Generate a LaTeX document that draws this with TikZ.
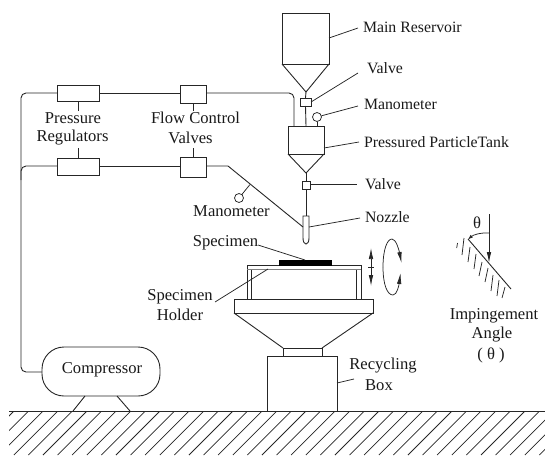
\documentclass[tikz,border=0pt]{standalone}
\usepackage{fontspec}
\setmainfont{Liberation Serif}
\usetikzlibrary{arrows.meta}
\tikzset{
  ln/.style={line width=0.9pt,color=black!85},
  thinln/.style={line width=0.75pt,color=black!85},
  pbox/.style={draw=black!85,line width=0.9pt,fill=white,inner sep=0pt,outer sep=0pt,minimum width=#1},
  lbl/.style={inner sep=0pt,outer sep=0pt,font=\fontsize{16.6}{18}\selectfont,text=black!90},
  lblw/.style={inner sep=0pt,outer sep=0pt,font=\fontsize{15.8}{18}\selectfont,text=black!90,anchor=west},
  gauge/.style={circle,draw=black!85,line width=0.75pt,fill=white,minimum size=9pt,inner sep=0pt,outer sep=0pt},
  tip/.style={-{Latex[length=11pt,width=4.5pt]}},
  rnd/.style={rounded corners=5pt}
}
\begin{document}
\begin{tikzpicture}[x=1pt,y=-1pt]
\useasboundingbox (0,0) rectangle (545,455);
% ground
\begin{scope}
\clip (9,411) rectangle (545,455);
\foreach \k in {0,...,41} {
  \draw[thinln] ({14+14.6*\k},411) -- ({14+14.6*\k-44},455);
}
\end{scope}
\coordinate (gl) at (9,411);
\coordinate (gr) at (545,411);
\draw[ln] (gl) -- (gr);
% reservoir
\node[pbox=47pt,minimum height=51pt] (res) at (305.5,38.5) {};
\coordinate (resapex) at (306,92);
\draw[ln] (res.south west) -- (resapex) -- (res.south east);
\node[pbox=11pt,minimum height=8pt] (v1) at (305.5,102) {};
% tank
\node[pbox=36pt,minimum height=28pt] (tank) at (306,140) {};
\coordinate (tankapex) at (306,173);
\draw[ln] (tank.south west) -- (tankapex) -- (tank.south east);
\node[pbox=8pt,minimum height=7.5pt] (v2) at (306,185.5) {};
\draw[ln] (resapex) -- (v1.north);
\draw[ln] (v1.south) -- (tank.north);
\draw[ln] (tankapex) -- (v2.north);
% nozzle
\coordinate (nozzletop) at (306,216);
\draw[ln] (v2.south) -- (nozzletop);
\draw[ln,fill=white] (303,238) -- (303,216) -- (309,216) -- (309,238) .. controls (309,246) and (303,246) .. (303,238);
\coordinate (nozl) at (303,227);
\coordinate (nozr) at (309,227);
% regulators and valves
\node[pbox=42pt,minimum height=16pt] (rt) at (78,93) {};
\node[pbox=26pt,minimum height=18pt] (ft) at (193,94) {};
\node[pbox=42pt,minimum height=17pt] (rb) at (78,166.5) {};
\node[pbox=26pt,minimum height=20pt] (fb) at (193,167) {};
\node[lbl] (regA) at (73,118) {Pressure};
\node[lbl] (regB) at (72.5,138) {Regulators};
\node[lbl] (flowA) at (195.5,118) {Flow Control};
\node[lbl] (flowB) at (190.5,138) {Valves};
\coordinate (t1) at (78.5,111);
\coordinate (t2) at (193,111);
\coordinate (t3) at (78.5,148);
\coordinate (t4) at (193,148);
\draw[ln] (rt.south -| t1) -- (t1);
\draw[ln] (ft.south) -- (t2);
\draw[ln] (rb.north -| t3) -- (t3);
\draw[ln] (fb.north) -- (t4);
% compressor
\node[draw=black!85,line width=0.9pt,rounded corners=22pt,minimum width=118pt,minimum height=49pt,inner sep=0pt,outer sep=0pt] (comp) at (101,371.5) {};
\node[lbl] (comptext) at (102,370) {Compressor};
\coordinate (f1) at (85,396);
\coordinate (f1g) at (73,411);
\coordinate (f2) at (117,396);
\coordinate (f2g) at (130,411);
\draw[ln] (f1) -- (f1g);
\draw[ln] (f2) -- (f2g);
% air lines
\coordinate (lc) at (21,372);
\draw[ln,rnd] (comp.west |- lc) -- (lc) -- (21,93) -- (rt.west);
\draw[ln,rnd] (21,180) -- (21,166) -- (rb.west |- 0,166);
\draw[ln] (rt.east) -- (ft.west |- rt.east);
\draw[ln,rnd] (ft.east |- rt.east) -- (294,93) -- (294,126);
\draw[ln] (rb.east) -- (fb.west |- rb.east);
\coordinate (bend) at (228,166);
\draw[ln] (fb.east |- bend) -- (bend) -- (nozl);
\node[gauge] (g2) at (239,198) {};
\coordinate (g2j) at (250,184.5);
\draw[thinln] (g2) -- (g2j);
% labels right
\node[lblw] (lmain) at (363,27) {Main Reservoir};
\node[lblw] (lv1) at (367,68) {Valve};
\node[lblw] (lman) at (364,104) {Manometer};
\node[lblw] (ltank) at (364,142) {Pressured ParticleTank};
\node[lblw] (lv2) at (365,184) {Valve};
\node[lblw] (lnoz) at (365,217) {Nozzle};
\node[gauge] (g1) at (317,117) {};
\draw[thinln] (g1) -- (tank.north -| g1);
\coordinate (a1) at (329,38);  \coordinate (a2) at (358,28);
\draw[thinln] (a1) -- (a2);
\coordinate (a3) at (311,102); \coordinate (a4) at (358,73);
\draw[thinln] (a3) -- (a4);
\coordinate (a5) at (358,106);
\draw[thinln] (g1) -- (a5);
\coordinate (a7) at (324,148); \coordinate (a8) at (359,142);
\draw[thinln] (a7) -- (a8);
\coordinate (a9) at (357,184);
\draw[thinln] (v2.east |- a9) -- (a9);
\coordinate (a10) at (360,218);
\draw[thinln] (nozr) -- (a10);
\node[lbl] (lman2) at (231.5,211) {Manometer};
\node[lbl] (lspec) at (225.5,243) {Specimen};
\node[lbl] (lhA) at (180,297) {Specimen};
\node[lbl] (lhB) at (180,315) {Holder};
% table
\node[pbox=4pt,minimum height=33pt] (legl) at (249,283) {};
\node[pbox=5pt,minimum height=33pt] (legr) at (358.5,283) {};
\node[draw=black!85,line width=0.7pt,fill=white,minimum width=114pt,minimum height=3.5pt,inner sep=0pt,outer sep=0pt] (plate) at (304,267.5) {};
\draw[line width=1.4pt,color=black!50] (plate.south west) -- (plate.south east);
\node[fill=black,minimum width=53pt,minimum height=6pt,inner sep=0pt,outer sep=0pt] (spec) at (305.5,263) {};
\coordinate (b1) at (258,245); \coordinate (b2) at (305,260);
\draw[thinln] (b1) -- (b2);
\coordinate (b3) at (215,302); \coordinate (b4) at (268,269);
\draw[thinln] (b3) -- (b4);
% holder base, funnel, box
\node[pbox=139pt,minimum height=14pt] (base) at (303.5,306) {};
\node[pbox=39pt,minimum height=8pt] (neck) at (302.5,352) {};
\draw[ln] (base.south west) -- (neck.north west);
\draw[ln] (base.south east) -- (neck.north east);
\node[pbox=70pt,minimum height=55pt] (box) at (302,383.5) {};
\node[lbl] (lrA) at (383,366) {Recycling};
\node[lbl] (lrB) at (379,385) {Box};
\coordinate (c1) at (337,383); \coordinate (c2) at (354,379);
\draw[thinln] (c1) -- (c2);
% motion arrows
\coordinate (ud1) at (371,267);
\coordinate (ud2) at (371,248);
\coordinate (ud3) at (371,286);
\draw[thinln,tip] (ud1) -- (ud2);
\draw[thinln,tip] (ud1) -- (ud3);
\draw[thinln] (368,267) -- (374,267);
\draw[thinln,tip] (383,267) .. controls (383,250) and (387,239) .. (392,239) .. controls (396,239) and (399,250) .. (401.5,263);
\draw[thinln,tip] (383,267) .. controls (383,284) and (387,295) .. (393,295) .. controls (397,295) and (399,285) .. (400.5,273);
% impingement sketch
\coordinate (i1) at (489,214);
\coordinate (i2) at (489,263);
\draw[ln,tip] (i1) -- (i2);
\coordinate (s1) at (468,239);
\coordinate (s2) at (511,289);
\draw[ln] (s1) -- (s2);
\foreach \xa/\ya/\xb/\yb in {464/238/462/255, 470/247/468/262, 476/254/474/269, 482/262/479/276, 488/268/485/282, 493/275/491/291, 499/280/497/296, 505/287/502/298} {
  \draw[thinln] (\xa,\ya) -- (\xb,\yb);
}
\draw[thinln] (457.5,243) -- (456.7,248);
\coordinate (arcend) at (489,233);
\draw[thinln,-{Latex[length=5pt,width=3.5pt]}] (arcend) .. controls (480,232.5) and (473,235) .. (468,239.5);
\node[lbl] (lth) at (477,223) {θ};
\node[lbl] (limA) at (494,316) {Impingement};
\node[lbl] (limB) at (492,335) {Angle};
\node[lbl] (limC) at (491,355) {( θ )};
\end{tikzpicture}
\end{document}
